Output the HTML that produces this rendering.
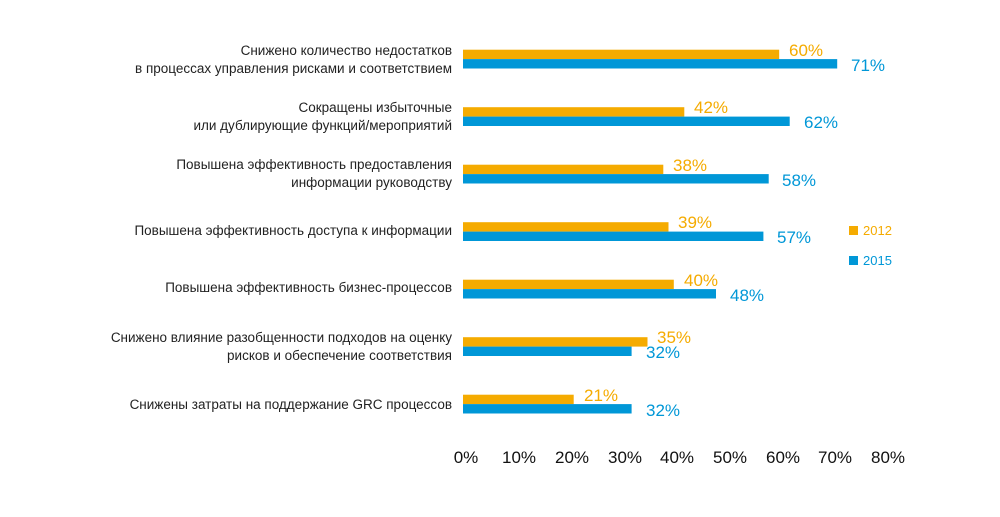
<!DOCTYPE html>
<html><head><meta charset="utf-8"><style>
body{margin:0;background:#fff;}
svg text{font-family:"Liberation Sans","DejaVu Sans",sans-serif;}
</style></head><body>
<svg width="1000" height="512" xmlns="http://www.w3.org/2000/svg">
<g font-size="13.5" fill="#222" text-anchor="end">
<text x="452" y="55">Снижено количество недостатков</text>
<text x="452" y="73">в процессах управления рисками и соответствием</text>
<text x="452" y="112">Сокращены избыточные</text>
<text x="452" y="130">или дублирующие функций/мероприятий</text>
<text x="452" y="169">Повышена эффективность предоставления</text>
<text x="452" y="187">информации руководству</text>
<text x="452" y="235">Повышена эффективность доступа к информации</text>
<text x="452" y="292">Повышена эффективность бизнес-процессов</text>
<text x="452" y="342">Снижено влияние разобщенности подходов на оценку</text>
<text x="452" y="360">рисков и обеспечение соответствия</text>
<text x="452" y="409">Снижены затраты на поддержание GRC процессов</text>
</g>
<g fill="#f5ab00">
<rect x="463" y="49.7" width="316.2" height="9.4"/>
<rect x="463" y="107.2" width="221.3" height="9.4"/>
<rect x="463" y="164.7" width="200.3" height="9.4"/>
<rect x="463" y="222.2" width="205.5" height="9.4"/>
<rect x="463" y="279.7" width="210.8" height="9.4"/>
<rect x="463" y="337.2" width="184.5" height="9.4"/>
<rect x="463" y="394.7" width="110.7" height="9.4"/>
</g>
<g fill="#0097d7">
<rect x="463" y="59.1" width="374.2" height="9.4"/>
<rect x="463" y="116.6" width="326.7" height="9.4"/>
<rect x="463" y="174.1" width="305.7" height="9.4"/>
<rect x="463" y="231.6" width="300.4" height="9.4"/>
<rect x="463" y="289.1" width="253.0" height="9.4"/>
<rect x="463" y="346.6" width="168.6" height="9.4"/>
<rect x="463" y="404.1" width="168.6" height="9.4"/>
</g>
<g font-size="17" fill="#f5ab00">
<text x="789" y="56">60%</text>
<text x="694" y="113">42%</text>
<text x="673" y="171">38%</text>
<text x="678" y="228">39%</text>
<text x="684" y="286">40%</text>
<text x="657" y="343">35%</text>
<text x="584" y="401">21%</text>
</g>
<g font-size="17" fill="#0097d7">
<text x="851" y="71">71%</text>
<text x="804" y="128">62%</text>
<text x="782" y="186">58%</text>
<text x="777" y="243">57%</text>
<text x="730" y="301">48%</text>
<text x="646" y="358">32%</text>
<text x="646" y="416">32%</text>
</g>
<g font-size="17" fill="#111" text-anchor="middle">
<text x="466" y="463">0%</text><text x="519" y="463">10%</text><text x="572" y="463">20%</text><text x="625" y="463">30%</text><text x="677" y="463">40%</text><text x="730" y="463">50%</text><text x="783" y="463">60%</text><text x="835" y="463">70%</text><text x="888" y="463">80%</text>
</g>
<rect x="849" y="226" width="9" height="9" fill="#f5ab00"/>
<text x="863" y="235" font-size="13" fill="#f5ab00">2012</text>
<rect x="849" y="256" width="9" height="9" fill="#0097d7"/>
<text x="863" y="265" font-size="13" fill="#0097d7">2015</text>
</svg>
</body></html>
